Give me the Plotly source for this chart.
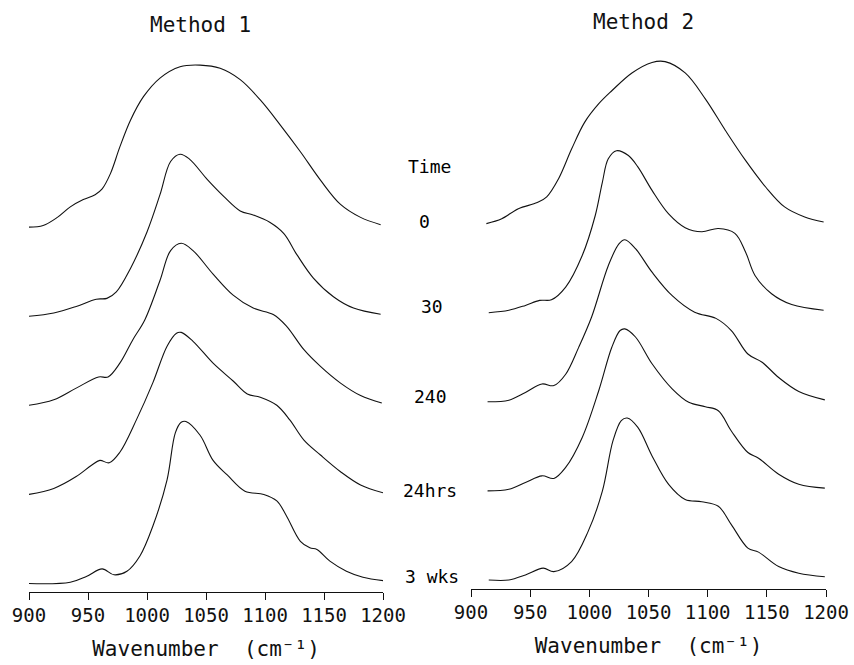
import plotly.graph_objects as go

# ---------------- data (normalised absorbance) ----------------
TIME_LABELS = ["0", "30", "240", "24hrs", "3 wks"]
PANEL_TITLES = ["Method 1", "Method 2"]
X_TICKS = [900, 950, 1000, 1050, 1100, 1150, 1200]

# Method 1
M1_0_WN = [900, 912, 924, 935, 946, 956, 962, 969, 977, 986, 997, 1011, 1028, 1045, 1062, 1079, 1096, 1113, 1130, 1147, 1164, 1181, 1198]
M1_0_AB = [0, 0.01, 0.06, 0.125, 0.17, 0.2, 0.236, 0.33, 0.495, 0.66, 0.805, 0.92, 0.99, 1.0, 0.98, 0.91, 0.785, 0.63, 0.465, 0.29, 0.14, 0.06, 0.015]

M1_30_WN = [900, 921, 940, 957, 966, 974, 986, 1000, 1011, 1020, 1028, 1036, 1051, 1065, 1079, 1090, 1104, 1116, 1127, 1141, 1158, 1175, 1198]
M1_30_AB = [0, 0.02, 0.06, 0.105, 0.11, 0.15, 0.295, 0.52, 0.75, 0.955, 1.0, 0.97, 0.845, 0.74, 0.65, 0.625, 0.58, 0.51, 0.38, 0.235, 0.12, 0.05, 0.012]

M1_240_WN = [900, 921, 940, 959, 967, 977, 988, 998, 1011, 1020, 1029, 1039, 1056, 1073, 1090, 1107, 1118, 1133, 1147, 1164, 1181, 1199]
M1_240_AB = [0, 0.034, 0.106, 0.175, 0.175, 0.26, 0.405, 0.525, 0.77, 0.955, 1.0, 0.955, 0.81, 0.68, 0.6, 0.56, 0.49, 0.343, 0.24, 0.137, 0.06, 0.014]

M1_24H_WN = [900, 921, 940, 953, 960, 968, 977, 991, 1005, 1017, 1025, 1029, 1039, 1056, 1073, 1085, 1096, 1110, 1121, 1133, 1147, 1164, 1181, 1200]
M1_24H_AB = [0, 0.037, 0.11, 0.18, 0.21, 0.195, 0.26, 0.46, 0.69, 0.915, 0.995, 1.0, 0.945, 0.81, 0.70, 0.62, 0.60, 0.55, 0.46, 0.335, 0.243, 0.14, 0.058, 0.01]

M1_3W_WN = [900, 935, 949, 962, 972, 983, 994, 1005, 1017, 1024, 1029, 1033, 1045, 1056, 1068, 1083, 1099, 1110, 1118, 1130, 1138, 1144, 1155, 1169, 1183, 1200]
M1_3W_AB = [0, 0.008, 0.045, 0.09, 0.054, 0.076, 0.17, 0.355, 0.64, 0.93, 0.995, 1.0, 0.915, 0.76, 0.67, 0.57, 0.55, 0.51, 0.42, 0.26, 0.22, 0.21, 0.138, 0.076, 0.039, 0.018]

# Method 2
M2_0_WN = [913, 926, 940, 956, 964, 974, 985, 996, 1008, 1019, 1036, 1053, 1064, 1081, 1098, 1115, 1132, 1149, 1165, 1182, 1198]
M2_0_AB = [0, 0.03, 0.092, 0.13, 0.165, 0.277, 0.46, 0.625, 0.74, 0.82, 0.93, 0.995, 1.0, 0.93, 0.77, 0.575, 0.39, 0.226, 0.103, 0.041, 0.01]

M2_30_WN = [915, 932, 946, 958, 968, 980, 994, 1005, 1011, 1016, 1023, 1033, 1041, 1053, 1067, 1081, 1095, 1109, 1123, 1132, 1140, 1154, 1171, 1198]
M2_30_AB = [0, 0.015, 0.045, 0.076, 0.08, 0.158, 0.353, 0.6, 0.805, 0.95, 1.0, 0.97, 0.9, 0.755, 0.61, 0.525, 0.5, 0.52, 0.49, 0.375, 0.23, 0.117, 0.05, 0.015]

M2_240_WN = [914, 932, 946, 960, 970, 980, 991, 1002, 1016, 1025, 1030, 1039, 1053, 1070, 1089, 1107, 1120, 1134, 1146, 1160, 1177, 1199]
M2_240_AB = [0, 0.01, 0.058, 0.11, 0.1, 0.17, 0.336, 0.525, 0.84, 0.975, 1.0, 0.945, 0.8, 0.655, 0.553, 0.515, 0.44, 0.295, 0.244, 0.15, 0.064, 0.012]

M2_24H_WN = [914, 932, 946, 960, 970, 980, 994, 1008, 1019, 1026, 1030, 1039, 1053, 1070, 1084, 1098, 1109, 1120, 1134, 1143, 1160, 1177, 1199]
M2_24H_AB = [0, 0.01, 0.052, 0.093, 0.077, 0.145, 0.33, 0.62, 0.887, 0.99, 1.0, 0.95, 0.785, 0.63, 0.547, 0.52, 0.495, 0.37, 0.237, 0.202, 0.103, 0.041, 0.017]

M2_3W_WN = [915, 932, 946, 961, 970, 985, 999, 1011, 1020, 1027, 1032, 1041, 1053, 1067, 1081, 1095, 1109, 1120, 1134, 1143, 1160, 1177, 1199]
M2_3W_AB = [0, 0, 0.031, 0.073, 0.052, 0.114, 0.3, 0.548, 0.86, 0.984, 1.0, 0.942, 0.766, 0.59, 0.497, 0.483, 0.455, 0.342, 0.197, 0.172, 0.083, 0.042, 0.02]

METHOD1 = [(M1_0_WN, M1_0_AB), (M1_30_WN, M1_30_AB), (M1_240_WN, M1_240_AB),
           (M1_24H_WN, M1_24H_AB), (M1_3W_WN, M1_3W_AB)]
METHOD2 = [(M2_0_WN, M2_0_AB), (M2_30_WN, M2_30_AB), (M2_240_WN, M2_240_AB),
           (M2_24H_WN, M2_24H_AB), (M2_3W_WN, M2_3W_AB)]

# ---------------- layout constants ----------------
W, H = 854, 665
STEP = 0.55            # vertical offset between stacked spectra (normalised units)
PX_PER_UNIT = 162.0

LINE = dict(color="#111111", width=1.1, shape="spline", smoothing=1.0)

fig = go.Figure()
n = len(TIME_LABELS)
for panel, series in enumerate([METHOD1, METHOD2]):
    xa = "x" if panel == 0 else "x2"
    ya = "y" if panel == 0 else "y2"
    for i, (wn, ab) in enumerate(series):
        off = (n - 1 - i) * STEP
        fig.add_trace(go.Scatter(x=wn, y=[v + off for v in ab], mode="lines",
                                 line=LINE, xaxis=xa, yaxis=ya,
                                 showlegend=False, hoverinfo="skip"))

# axis pixel geometry
def ydomain(axis_py, base_py):
    bottom = (H - axis_py) / H
    ymin = -(axis_py - base_py) / PX_PER_UNIT
    ymax = ymin + axis_py / PX_PER_UNIT
    return [bottom, 1.0], [ymin, ymax]

d1, r1 = ydomain(591.5, 583.5)
d2, r2 = ydomain(588.5, 580.0)

tickfont = dict(family="DejaVu Sans Mono", size=19, color="#111111")
titlefont = dict(family="DejaVu Sans Mono", size=21, color="#111111")

def xaxis(domain, anchor):
    return dict(domain=domain, range=[900, 1200], anchor=anchor,
                tickmode="array", tickvals=X_TICKS, ticktext=[str(t) for t in X_TICKS],
                ticks="outside", ticklen=7, tickwidth=1, tickcolor="#111111",
                showline=True, linecolor="#111111", linewidth=1,
                showgrid=False, zeroline=False, tickfont=tickfont,
                title=dict(text="Wavenumber  (cm\u207b\u00b9)", font=titlefont, standoff=16),
                automargin=False, fixedrange=True)

fig.update_layout(
    width=W, height=H,
    margin=dict(l=0, r=0, t=0, b=0),
    paper_bgcolor="white", plot_bgcolor="white",
    xaxis=xaxis([29 / W, 383 / W], "y"),
    xaxis2=xaxis([471 / W, 826 / W], "y2"),
    yaxis=dict(domain=d1, range=r1, visible=False, fixedrange=True),
    yaxis2=dict(domain=d2, range=r2, visible=False, fixedrange=True),
)

# panel titles
for txt, cx, cy in [(PANEL_TITLES[0], 200, 25), (PANEL_TITLES[1], 643, 22)]:
    fig.add_annotation(text=txt, x=cx / W, y=1 - cy / H, xref="paper", yref="paper",
                       showarrow=False, xanchor="center", yanchor="middle",
                       font=dict(family="DejaVu Sans Mono", size=21, color="#111111"))

# time labels between panels
label_pos = [(429, 166), (424, 221), (432, 306), (430, 396), (430, 491), (432, 576)]
for txt, (cx, cy) in zip(["Time"] + TIME_LABELS, label_pos):
    fig.add_annotation(text=txt, x=cx / W, y=1 - cy / H, xref="paper", yref="paper",
                       showarrow=False, xanchor="center", yanchor="middle",
                       font=dict(family="DejaVu Sans Mono", size=18, color="#000000"))

fig.write_html("out.html")
